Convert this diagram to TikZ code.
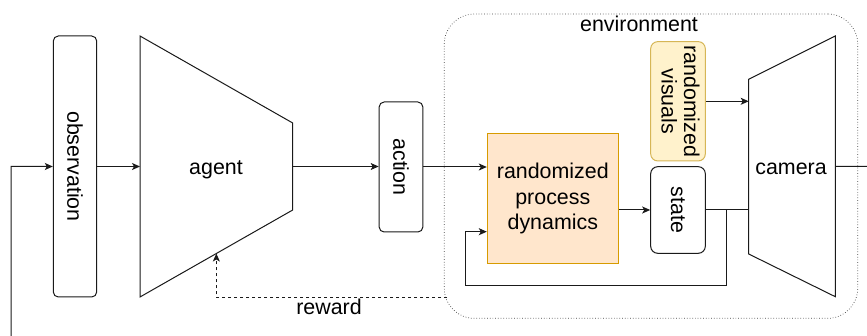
\documentclass[tikz,border=0pt]{standalone}
\usepackage{fontspec}
\setmainfont{Liberation Sans}
\usetikzlibrary{arrows.meta,calc}

\definecolor{procfill}{HTML}{FFE6CC}
\definecolor{procline}{HTML}{D79B00}
\definecolor{visfill}{HTML}{FFF2CC}
\definecolor{visline}{HTML}{D6B656}
\definecolor{ink}{HTML}{1A1A1A}

\tikzset{
  conn/.style={draw=ink, line width=1pt},
  flow/.style={conn, -{Stealth[length=8pt,width=7pt,inset=2pt]}},
  pill/.style={draw=ink, line width=1pt, rounded corners=5pt, inner sep=0pt, fill=white},
  procbox/.style={draw=procline, fill=procfill, line width=1pt, inner sep=0pt},
  visbox/.style={draw=visline, fill=visfill, line width=1pt, rounded corners=7pt, inner sep=0pt},
  envbox/.style={draw=black!75, dotted, line width=0.7pt, rounded corners=30pt, inner sep=0pt},
  trap/.style={draw=ink, line width=1pt, fill=white},
  lbl/.style={inner sep=0pt, text=black}
}

\begin{document}
\begin{tikzpicture}[x=1pt, y=-1pt, font=\fontsize{21.4}{25.5}\selectfont]
\useasboundingbox (0,0) rectangle (867,336);
\begin{scope}
\clip (0,0) rectangle (867,336);

% environment frame
\node[envbox, minimum width=413.4pt, minimum height=304.3pt] (env) at (651,166.2) {};
\node[lbl, anchor=base] (envlabel) at (639,31.7) {environment};

% observation and action
\node[pill, minimum width=43.4pt, minimum height=261pt] (obs) at (75,166.5) {\rotatebox{-90}{observation}};
\node[pill, minimum width=43.7pt, minimum height=130pt] (act) at (401,167) {\rotatebox{-90}{action}};

% agent (trapezoid)
\coordinate (agTL) at (140,36);
\coordinate (agTR) at (292.7,123);
\coordinate (agBR) at (292.7,210);
\coordinate (agBL) at (140,297);
\draw[trap] (agTL) -- (agTR) -- (agBR) -- (agBL) -- cycle;
\node[lbl, anchor=base] (agent) at (216,174.5) {agent};

% camera (trapezoid)
\coordinate (camTL) at (748.7,79.3);
\coordinate (camTR) at (835.3,36);
\coordinate (camBR) at (835.3,296.7);
\coordinate (camBL) at (748.7,254);
\draw[trap] (camTL) -- (camTR) -- (camBR) -- (camBL) -- cycle;
\node[lbl, anchor=base] (camera) at (791,174.5) {camera};

% process dynamics, visuals and state
\node[procbox, minimum width=131pt, minimum height=130pt] (rpd) at (552.8,199)
  {\raisebox{-2pt}{\begin{tabular}{@{}c@{}}randomized\\process\\dynamics\end{tabular}}};
\node[visbox, minimum width=54.6pt, minimum height=119.3pt] (rv) at (678,101.3)
  {\rotatebox{-90}{\begin{tabular}{@{}c@{}}randomized\\[-3pt]visuals\end{tabular}}};
\node[pill, rounded corners=7pt, minimum width=54.6pt, minimum height=86.6pt] (st) at (678,210) {\rotatebox{-90}{state}};

% agent -> action -> dynamics
\coordinate (agR) at ($(agTR)!0.5!(agBR)$);
\draw[flow] (obs.east) -- (obs.east -| agTL);
\draw[flow] (agR) -- (agR -| act.west);
\draw[flow] (act.east) -- (act.east -| rpd.west);

% dynamics -> state, visuals -> camera, state -> camera
\draw[flow] (rpd.east |- st.west) -- (st.west);
\draw[flow] (rv.east) -- (rv.east -| camTL);
\draw[conn] (st.east) -- (st.east -| camTL);

% state fed back into the dynamics
\coordinate (fb) at (726.7,210);
\coordinate (fbdown) at (726.7,286);
\coordinate (fbleft) at (465.7,286);
\coordinate (fbup) at (465.7,231.7);
\draw[flow] (fb) -- (fbdown) -- (fbleft) -- (fbup) -- (fbup -| rpd.west);

% camera image back to the observation
\coordinate (camR) at ($(camTR)!0.5!(camBR)$);
\coordinate (lp1) at (885,166.4);
\coordinate (lp2) at (885,350);
\coordinate (lp3) at (11,350);
\coordinate (lp4) at (11,166.5);
\draw[flow] (camR) -- (lp1) -- (lp2) -- (lp3) -- (lp4) -- (obs.west);

% reward
\coordinate (rwS) at (447,297.7);
\coordinate (agBm) at ($(agBL)!0.5!(agBR)$);
\draw[flow, dash pattern=on 3pt off 3pt] (rwS) -- (agBm |- rwS) -- (agBm);
\node[lbl, anchor=base] (rew) at (329,315) {reward};
\end{scope}
\end{tikzpicture}
\end{document}
